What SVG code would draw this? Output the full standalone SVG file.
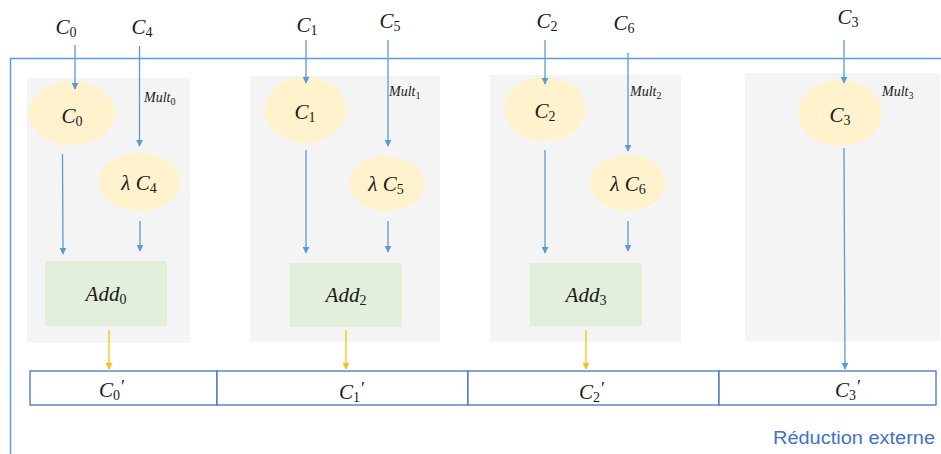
<svg xmlns="http://www.w3.org/2000/svg" width="941" height="454" viewBox="0 0 941 454">
<defs>
<marker id="ab" viewBox="0 0 10 10" refX="9" refY="5" markerWidth="7" markerHeight="7" markerUnits="userSpaceOnUse" orient="auto"><path d="M0,0 L10,5 L0,10 z" fill="#5b9bd5"/></marker>
<marker id="ao" viewBox="0 0 10 10" refX="9" refY="5" markerWidth="7" markerHeight="7" markerUnits="userSpaceOnUse" orient="auto"><path d="M0,0 L10,5 L0,10 z" fill="#ffc000"/></marker>
</defs>
<style>
.panel{fill:#f4f4f4}
.ell{fill:#fff2cc}
.add{fill:#e2efda}
.m{font-family:"Liberation Serif","DejaVu Serif",serif;font-style:italic;font-size:21px;fill:#1a1a1a;text-anchor:middle}
.s{font-size:14px;font-style:normal}
.p{font-size:18px;font-style:normal}
.ml{font-family:"Liberation Serif","DejaVu Serif",serif;font-style:italic;font-size:14px;fill:#1a1a1a}
.ms{font-size:10px;font-style:normal}
.bl{stroke:#5b9bd5;stroke-width:1.3;fill:none}
.or{stroke:#ffc000;stroke-width:1.3;fill:none}
.cell{fill:#fff;stroke:#4472c4;stroke-width:1.3}
.lbl{font-family:"Liberation Sans","Open Sans",sans-serif;font-size:18px;fill:#4472c4}
</style>
<g id="frame">
<path d="M10.5,454 L10.5,58.5 L941,58.5" stroke="#5b9bd5" stroke-width="1.5" fill="none"/>
</g>
<g id="panels">
<rect id="panel0" class="panel" x="27" y="78" width="163" height="265"/>
<rect id="panel1" class="panel" x="250" y="76" width="190" height="266"/>
<rect id="panel2" class="panel" x="490" y="75" width="191" height="267"/>
<rect id="panel3" class="panel" x="745" y="73" width="195" height="268"/>
</g>
<g id="inputs">
<text class="m" x="66" y="34">C<tspan class="s" dy="3">0</tspan></text>
<text class="m" x="142" y="34">C<tspan class="s" dy="3">4</tspan></text>
<text class="m" x="307" y="32">C<tspan class="s" dy="3">1</tspan></text>
<text class="m" x="390" y="28">C<tspan class="s" dy="3">5</tspan></text>
<text class="m" x="547" y="28">C<tspan class="s" dy="3">2</tspan></text>
<text class="m" x="624" y="30">C<tspan class="s" dy="3">6</tspan></text>
<text class="m" x="848" y="24">C<tspan class="s" dy="3">3</tspan></text>
</g>
<g id="mults">
<text class="ml" x="144" y="102">Mult<tspan class="ms" dy="3">0</tspan></text>
<text class="ml" x="389" y="96">Mult<tspan class="ms" dy="3">1</tspan></text>
<text class="ml" x="630" y="96">Mult<tspan class="ms" dy="3">2</tspan></text>
<text class="ml" x="882" y="96">Mult<tspan class="ms" dy="3">3</tspan></text>
</g>
<g id="node-c0"><ellipse class="ell" cx="72" cy="113" rx="43" ry="32"/><text class="m" x="72" y="123">C<tspan class="s" dy="3">0</tspan></text></g>
<g id="node-lc4"><ellipse class="ell" cx="139.5" cy="182" rx="41" ry="29"/><text class="m" x="139" y="190">λ C<tspan class="s" dy="3">4</tspan></text></g>
<g id="node-add0"><rect class="add" x="45" y="261" width="122" height="65"/><text class="m" x="106" y="301">Add<tspan class="s" dy="3">0</tspan></text></g>
<g id="node-c1"><ellipse class="ell" cx="305.5" cy="110" rx="41" ry="33"/><text class="m" x="305" y="119">C<tspan class="s" dy="3">1</tspan></text></g>
<g id="node-lc5"><ellipse class="ell" cx="386.5" cy="183.5" rx="37.5" ry="27.5"/><text class="m" x="386" y="191">λ C<tspan class="s" dy="3">5</tspan></text></g>
<g id="node-add2"><rect class="add" x="290" y="263" width="112" height="64"/><text class="m" x="346" y="302">Add<tspan class="s" dy="3">2</tspan></text></g>
<g id="node-c2"><ellipse class="ell" cx="545" cy="109" rx="41" ry="32"/><text class="m" x="545" y="118">C<tspan class="s" dy="3">2</tspan></text></g>
<g id="node-lc6"><ellipse class="ell" cx="628" cy="183" rx="38" ry="28"/><text class="m" x="628" y="191">λ C<tspan class="s" dy="3">6</tspan></text></g>
<g id="node-add3"><rect class="add" x="530" y="263" width="112" height="63"/><text class="m" x="586" y="302">Add<tspan class="s" dy="3">3</tspan></text></g>
<g id="node-c3"><ellipse class="ell" cx="840" cy="113" rx="42" ry="33"/><text class="m" x="840" y="122">C<tspan class="s" dy="3">3</tspan></text></g>
<g id="node-out">
<rect class="cell" x="30" y="371" width="187" height="34"/>
<rect class="cell" x="217" y="371" width="251" height="34"/>
<rect class="cell" x="468" y="371" width="251" height="34"/>
<rect class="cell" x="719" y="371" width="217" height="34"/>
<text class="m" x="112" y="397">C<tspan class="s" dy="3">0</tspan><tspan dy="-7" dx="1" class="p">′</tspan></text>
<text class="m" x="352" y="399">C<tspan class="s" dy="3">1</tspan><tspan dy="-7" dx="1" class="p">′</tspan></text>
<text class="m" x="592" y="399">C<tspan class="s" dy="3">2</tspan><tspan dy="-7" dx="1" class="p">′</tspan></text>
<text class="m" x="848" y="397">C<tspan class="s" dy="3">3</tspan><tspan dy="-7" dx="1" class="p">′</tspan></text>
</g>
<g id="connectors">
<line class="bl" x1="75" y1="45" x2="75" y2="89" marker-end="url(#ab)"/>
<line class="bl" x1="139.5" y1="46" x2="139.5" y2="146" marker-end="url(#ab)"/>
<line class="bl" x1="62.5" y1="154" x2="63" y2="254" marker-end="url(#ab)"/>
<line class="bl" x1="140" y1="221" x2="140" y2="251" marker-end="url(#ab)"/>
<line class="or" x1="109" y1="330" x2="109" y2="369" marker-end="url(#ao)"/>
<line class="bl" x1="306" y1="40" x2="306" y2="83" marker-end="url(#ab)"/>
<line class="bl" x1="388" y1="40" x2="388" y2="146" marker-end="url(#ab)"/>
<line class="bl" x1="306" y1="150" x2="306" y2="253" marker-end="url(#ab)"/>
<line class="bl" x1="388" y1="221" x2="388" y2="252" marker-end="url(#ab)"/>
<line class="or" x1="346" y1="330" x2="346" y2="369" marker-end="url(#ao)"/>
<line class="bl" x1="545" y1="40" x2="545" y2="84" marker-end="url(#ab)"/>
<line class="bl" x1="628" y1="53" x2="628" y2="151" marker-end="url(#ab)"/>
<line class="bl" x1="545" y1="150" x2="545" y2="253" marker-end="url(#ab)"/>
<line class="bl" x1="628" y1="221" x2="628" y2="251" marker-end="url(#ab)"/>
<line class="or" x1="586" y1="330" x2="586" y2="369" marker-end="url(#ao)"/>
<line class="bl" x1="844" y1="40" x2="844" y2="83" marker-end="url(#ab)"/>
<line class="bl" x1="844" y1="148" x2="845" y2="369" marker-end="url(#ab)"/>
</g>
<text class="lbl" x="773" y="444" textLength="162" lengthAdjust="spacingAndGlyphs">Réduction externe</text>
</svg>
